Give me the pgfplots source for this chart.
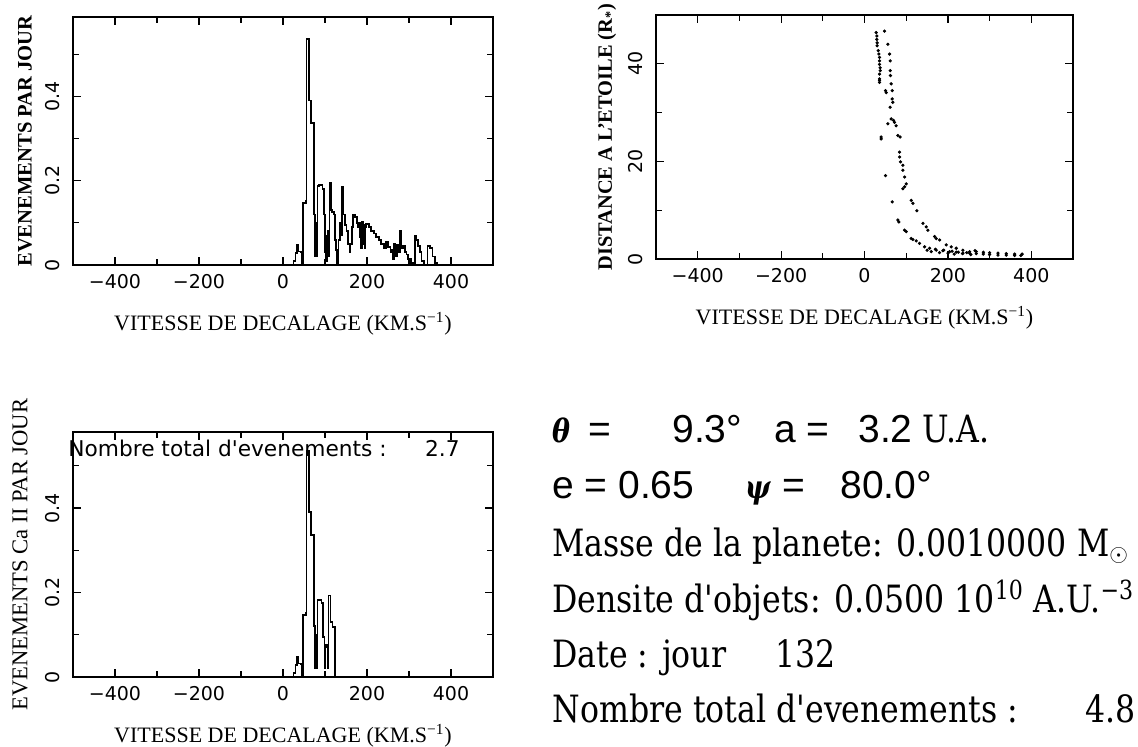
\documentclass[border=0pt]{standalone}
\usepackage{pgfplots}
\pgfplotsset{compat=1.18}
\usepackage{fontspec}
\setmainfont{Liberation Serif}
\newfontfamily\tickfont{DejaVu Sans}
\newfontfamily\lsans{Liberation Sans}
\newfontfamily\blockfont[FakeStretch=0.84]{DejaVu Serif}

% histogram of the top-left panel (bin left edge, height)
\pgfplotstableread{
x y
-500 0
25 0.01
30 0.028
33 0.047
37 0.032
42 0.03
45 0.004
48 0.147
54 0.152
56 0.535
62 0.39
67 0.336
73 0.12
76 0.02
78 0.10
80 0.02
82 0.188
86 0.19
94 0.18
98 0.12
100 0.03
102 0.01
104 0.07
107 0.08
109 0.02
111 0.195
114 0.13
117 0.125
121 0.12
124 0.06
127 0.035
129 0.005
132 0.06
135 0.10
138 0.07
141 0.185
144 0.12
147 0.095
151 0.08
154 0.05
158 0.03
161 0.05
164 0.09
167 0.118
171 0.113
176 0.10
179 0.09
182 0.065
184 0.10
186 0.04
188 0.102
190 0.05
192 0.095
194 0.04
196 0.09
198 0.098
204 0.09
210 0.08
216 0.075
222 0.066
228 0.06
234 0.05
240 0.04
245 0.055
250 0.042
256 0.03
260 0.035
262 0.015
265 0.05
268 0.02
271 0.048
274 0.03
278 0.08
281 0.04
285 0.045
290 0.03
294 0.025
298 0.015
304 0.005
310 0.0
314 0.07
318 0.06
322 0.045
326 0.03
330 0.01
336 0.0
344 0.045
350 0.04
356 0.02
362 0.005
368 0.0
500 0
}\histall

% histogram of the bottom-left panel (Ca II)
\pgfplotstableread{
x y
-500 0
25 0.01
30 0.028
33 0.047
37 0.032
42 0.03
45 0.004
48 0.147
54 0.152
56 0.535
62 0.39
67 0.336
73 0.12
76 0.02
78 0.10
80 0.02
82 0.183
92 0.175
95 0.095
99 0.02
101 0.075
104 0.07
106 0.02
108 0.193
113 0.13
118 0.118
124 0
500 0
}\histca

% distance vs velocity, top-right panel
\pgfplotstableread{
x y
28 46.4
29.6 45.7
29.6 45.0
30.4 44.3
30.4 43.7
32.8 42.7
34.4 42.0
36 41.3
36 40.6
36 39.9
37.6 39.2
37.6 38.6
36 37.9
36 36.9
36 36.2
36 36.6
50.4 34.5
52 34.1
61.5 31.1
40 25.0
40 24.6
50.4 17.1
66.4 11.7
80 8.0
82.3 7.6
96 5.9
100 5.6
112 4.2
116 4.0
124 3.7
132 3.2
144 2.5
156 2.2
172 1.8
188 1.7
204 1.5
220 1.4
236 1.2
252 1.2
268 1.1
285 1.0
300 0.9
320 0.8
340 0.8
360 0.7
375 0.7
48 46.7
56 44.0
60 42.0
61.5 40.6
61.5 38.6
62.3 37.6
64 35.9
66.4 34.5
66.4 32.8
68 32.1
64 28.7
69.5 28.4
72 28.0
56 27.7
76 27.3
80 25.3
85.5 25.0
84 21.9
84 20.9
86.3 19.9
92 19.2
92 18.2
96 16.8
100 15.4
96 14.8
92 14.4
112 12.0
116 11.4
125.5 9.9
140 7.3
148 6.6
152 5.9
168 4.6
172 4.2
180 3.9
196 2.9
208 2.5
220 2.2
236 1.8
252 1.5
268 1.5
285 1.4
300 1.3
320 1.2
340 1.1
360 1.0
378 1.0
150 1.8
160 1.5
170 2.0
180 1.3
190 1.8
200 1.2
210 1.6
215 1.0
225 1.4
235 1.1
245 1.3
255 0.9
265 1.7
}\dist

\pgfplotsset{
  panel/.style={
    scale only axis, anchor=south west,
    xmin=-500, xmax=500, ymin=0,
    axis line style={line width=0.9pt},
    tick align=inside,
    major tick length=4pt, minor tick length=2.8pt,
    every tick/.style={black, line width=0.6pt},
    xtick={-400,-200,0,200,400},
    xticklabels={−400,−200,0,200,400},
    minor xtick={-300,-100,100,300},
    ticklabel style={font=\tickfont\fontsize{9.5}{11}\selectfont},
    xticklabel style={anchor=center, yshift=-8.5pt},
    yticklabel style={xshift=-10pt, rotate=90, anchor=center},
    xlabel={VITESSE DE DECALAGE (KM.S\textsuperscript{−1})},
    xlabel style={at={([yshift=-29.5pt]rel axis cs:0.5,0)}, anchor=center,
      font=\fontsize{11}{13}\selectfont},
  },
}

\begin{document}
\begin{tikzpicture}
\useasboundingbox (0,0) rectangle (1138*0.5pt,-747*0.5pt);

% top left
\begin{axis}[panel, at={(73*0.5pt,-265*0.5pt)}, width=210pt, height=124pt,
  ymax=0.588, ytick={0,0.2,0.4}, yticklabels={0,0.2,0.4}, minor ytick={0.1,0.3,0.5},
  ylabel={EVENEMENTS PAR JOUR},
  ylabel style={at={([xshift=-24pt]rel axis cs:0,0.5)}, anchor=center,
    font=\bfseries\fontsize{10.3}{12}\selectfont}]
\addplot[const plot, black, line width=0.85pt] table[x=x, y=y] {\histall};
\end{axis}

% top right
\begin{axis}[panel, at={(656*0.5pt,-259*0.5pt)}, width=208.5pt, height=122pt,
  ymax=50, ytick={0,20,40}, yticklabels={0,20,40}, minor ytick={10,30},
  ylabel={DISTANCE A L'ETOILE (R\textsubscript{*})},
  ylabel style={at={([xshift=-24.5pt]rel axis cs:0,0.5)}, anchor=center,
    font=\bfseries\fontsize{10.2}{12}\selectfont}]
\addplot[only marks, mark=*, mark size=0.6pt, black] table[x=x, y=y] {\dist};
\end{axis}

% bottom left
\begin{axis}[panel, at={(73*0.5pt,-677*0.5pt)}, width=210pt, height=122.5pt,
  ymax=0.58, ytick={0,0.2,0.4}, yticklabels={0,0.2,0.4}, minor ytick={0.1,0.3,0.5},
  ylabel={EVENEMENTS Ca II PAR JOUR},
  ylabel style={at={([xshift=-26.5pt]rel axis cs:0,0.5)}, anchor=center,
    font=\fontsize{11.3}{13}\selectfont}]
\addplot[const plot, black, line width=0.85pt] table[x=x, y=y] {\histca};
\end{axis}

\node[anchor=base west, inner sep=0pt, font=\tickfont\fontsize{10.85}{12}\selectfont]
  at (68*0.5pt,-457*0.5pt) {Nombre total d'evenements :};
\node[anchor=base east, inner sep=0pt, font=\tickfont\fontsize{10.85}{12}\selectfont]
  at (460*0.5pt,-457*0.5pt) {2.7};

% parameter block
\begin{scope}[every node/.style={anchor=base west, inner sep=0pt}]
\node[font=\blockfont\bfseries\itshape\fontsize{16}{20}\selectfont] at (552*0.5pt,-443*0.5pt) {θ};
\node[font=\lsans\fontsize{19.5}{22}\selectfont] at (588*0.5pt,-443*0.5pt) {=};
\node[font=\lsans\fontsize{19.5}{22}\selectfont] at (672*0.5pt,-443*0.5pt) {9.3°};
\node[font=\lsans\fontsize{19.5}{22}\selectfont] at (774*0.5pt,-443*0.5pt) {a};
\node[font=\lsans\fontsize{19.5}{22}\selectfont] at (806*0.5pt,-443*0.5pt) {=};
\node[font=\lsans\fontsize{19.5}{22}\selectfont] at (858*0.5pt,-443*0.5pt) {3.2};
\node[font=\blockfont\fontsize{18.8}{22}\selectfont] at (922*0.5pt,-443*0.5pt) {U.A.};

\node[font=\lsans\fontsize{19.5}{22}\selectfont] at (552*0.5pt,-499*0.5pt) {e};
\node[font=\lsans\fontsize{19.5}{22}\selectfont] at (584*0.5pt,-499*0.5pt) {=};
\node[font=\lsans\fontsize{19.5}{22}\selectfont] at (618*0.5pt,-499*0.5pt) {0.65};
\node[font=\blockfont\bfseries\itshape\fontsize{16}{20}\selectfont] at (745*0.5pt,-499*0.5pt) {ψ};
\node[font=\lsans\fontsize{19.5}{22}\selectfont] at (782*0.5pt,-499*0.5pt) {=};
\node[font=\lsans\fontsize{19.5}{22}\selectfont] at (840*0.5pt,-499*0.5pt) {80.0°};

\node[font=\blockfont\fontsize{18.8}{22}\selectfont] at (552*0.5pt,-556*0.5pt)
  {Masse de la planete: 0.0010000 M$_\odot$};
\node[font=\blockfont\fontsize{18.8}{22}\selectfont] at (552*0.5pt,-612*0.5pt)
  {Densite d'objets: 0.0500 10\textsuperscript{10} A.U.\textsuperscript{−3}};
\node[font=\blockfont\fontsize{18.8}{22}\selectfont] at (552*0.5pt,-667*0.5pt) {Date : jour};
\node[font=\blockfont\fontsize{18.8}{22}\selectfont] at (775*0.5pt,-667*0.5pt) {132};
\node[font=\blockfont\fontsize{18.8}{22}\selectfont] at (552*0.5pt,-722*0.5pt) {Nombre total d'evenements :};
\node[font=\blockfont\fontsize{18.8}{22}\selectfont, anchor=base east] at (1136*0.5pt,-722*0.5pt) {4.8};
\end{scope}
\end{tikzpicture}
\end{document}
